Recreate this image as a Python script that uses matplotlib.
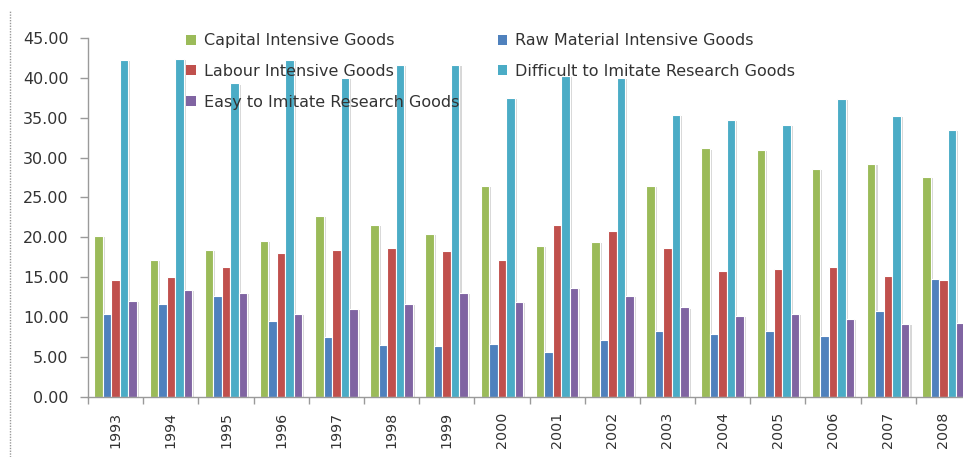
import matplotlib.pyplot as plt
import matplotlib.patheffects as pe
from matplotlib.lines import Line2D
from matplotlib.patches import Patch
import numpy as np

years = ['1993', '1994', '1995', '1996', '1997', '1998', '1999', '2000',
         '2001', '2002', '2003', '2004', '2005', '2006', '2007', '2008']

capital = [20.2, 17.2, 18.45, 19.5, 22.7, 21.5, 20.4, 26.4,
           18.9, 19.4, 26.4, 31.15, 30.95, 28.6, 29.2, 27.6]
raw_material = [10.4, 11.6, 12.67, 9.5, 7.55, 6.5, 6.4, 6.6,
                5.55, 7.1, 8.2, 7.9, 8.2, 7.6, 10.7, 14.8]
labour = [14.7, 15.0, 16.3, 18.0, 18.4, 18.7, 18.3, 17.2,
          21.6, 20.75, 18.6, 15.8, 16.0, 16.3, 15.2, 14.65]
difficult = [42.3, 42.4, 39.3, 42.2, 40.0, 41.6, 41.6, 37.5,
             40.2, 40.0, 35.3, 34.7, 34.05, 37.4, 35.2, 33.5]
easy = [12.0, 13.4, 13.0, 10.4, 11.0, 11.6, 13.0, 11.9,
        13.6, 12.6, 11.2, 10.15, 10.4, 9.7, 9.1, 9.2]

series = [
    ('Capital Intensive Goods', capital, '#9BBB59'),
    ('Raw Material Intensive Goods', raw_material, '#4F81BD'),
    ('Labour Intensive Goods', labour, '#C0504D'),
    ('Difficult to Imitate Research Goods', difficult, '#4BACC6'),
    ('Easy to Imitate Research Goods', easy, '#8064A2'),
]

fig = plt.figure(figsize=(9.63, 4.57), dpi=100)
ax = fig.add_axes([88 / 963, 60.3 / 457, 883 / 963, 358.7 / 457])

x = np.arange(len(years))
w = 0.154
shadow = [pe.SimplePatchShadow(offset=(1.5, -0.8), shadow_rgbFace='#b0b0b0', alpha=0.5),
          pe.Normal()]
handles = {}
for i, (name, vals, col) in enumerate(series):
    bars = ax.bar(x + (i - 2) * w, vals, width=w, color=col,
                  edgecolor='white', linewidth=0.8)
    for b in bars:
        b.set_path_effects(shadow)
    handles[name] = Patch(facecolor=col, edgecolor='none')

ax.set_xlim(-0.5, len(years) - 0.5)
ax.set_ylim(0, 45)
ax.set_yticks(np.arange(0, 46, 5))
ax.set_yticklabels([f'{v:.2f}' for v in np.arange(0, 46, 5)],
                   fontsize=11.5, color='#333333')
ax.set_xticks(x)
ax.set_xticklabels(years, rotation=90, fontsize=10.3, color='#333333')
ax.set_xticks(np.arange(-0.5, len(years), 1), minor=True)
ax.tick_params(axis='x', which='major', length=0, pad=11)
ax.tick_params(axis='x', which='minor', length=5, color='#9a9a9a', width=1)
ax.tick_params(axis='y', length=6, color='#9a9a9a', width=1, pad=8)

for s in ['top', 'right']:
    ax.spines[s].set_visible(False)
for s in ['left', 'bottom']:
    ax.spines[s].set_color('#9a9a9a')
    ax.spines[s].set_linewidth(1)

order = ['Capital Intensive Goods', 'Labour Intensive Goods',
         'Easy to Imitate Research Goods', 'Raw Material Intensive Goods',
         'Difficult to Imitate Research Goods']
fig.legend([handles[n] for n in order], order, ncol=2, frameon=False,
           loc='upper left', bbox_to_anchor=(172 / 963, 1 - 19 / 457),
           fontsize=11.5, handlelength=0.6, handleheight=0.6, handletextpad=0.5,
           labelspacing=0.98, columnspacing=2.4, labelcolor='#333333')

# dotted frame edge on the left
fig.add_artist(Line2D([10 / 963, 10 / 963], [0, 1 - 10 / 457],
                      color='#999999', linewidth=1, linestyle=(0, (1, 1))))

plt.savefig('out.png', dpi=100)
